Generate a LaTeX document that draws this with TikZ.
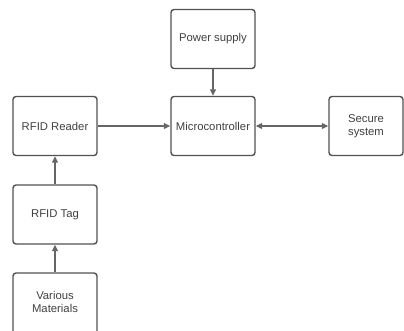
\documentclass[tikz,border=0pt]{standalone}
\usepackage{fontspec}
\setmainfont{Liberation Sans}
\usetikzlibrary{arrows.meta}
\begin{document}
\begin{tikzpicture}[x=1pt,y=-1pt,
  blk/.style={draw=black!68, line width=1.4pt, rounded corners=3pt, fill=white,
    minimum width=84pt, minimum height=59pt, inner sep=0pt,
    text=black!75, font=\fontsize{11.3}{13.5}\selectfont, align=center},
  conn/.style={draw=black!60, line width=1.3pt, -{Triangle[length=6.5pt,width=6pt]}},
  bconn/.style={draw=black!60, line width=1.3pt, {Triangle[length=6.5pt,width=6pt]}-{Triangle[length=6.5pt,width=6pt]}}]
\clip (0,0) rectangle (404,331);
\fill[white] (0,0) rectangle (404,331);
\node[blk] (ps) at (213,39) {Power supply};
\node[blk] (mc) at (213,126) {Microcontroller};
\node[blk] (rr) at (55,126) {RFID Reader};
\node[blk, minimum width=74pt] (ss) at (366,126) {Secure\\system};
\node[blk] (tag) at (55,214.5) {RFID Tag};
\node[blk, minimum height=70pt] (vm) at (55,308) {};
\node[text=black!75, font=\fontsize{11.3}{13.5}\selectfont, align=center] (vmt) at (55,302) {Various\\Materials};
\draw[conn] (ps.south) -- (mc.north);
\draw[conn] (rr.east) -- (mc.west);
\draw[bconn] (mc.east) -- (ss.west);
\draw[conn] (tag.north) -- (rr.south);
\draw[conn] (vm.north) -- (tag.south);
\end{tikzpicture}
\end{document}
